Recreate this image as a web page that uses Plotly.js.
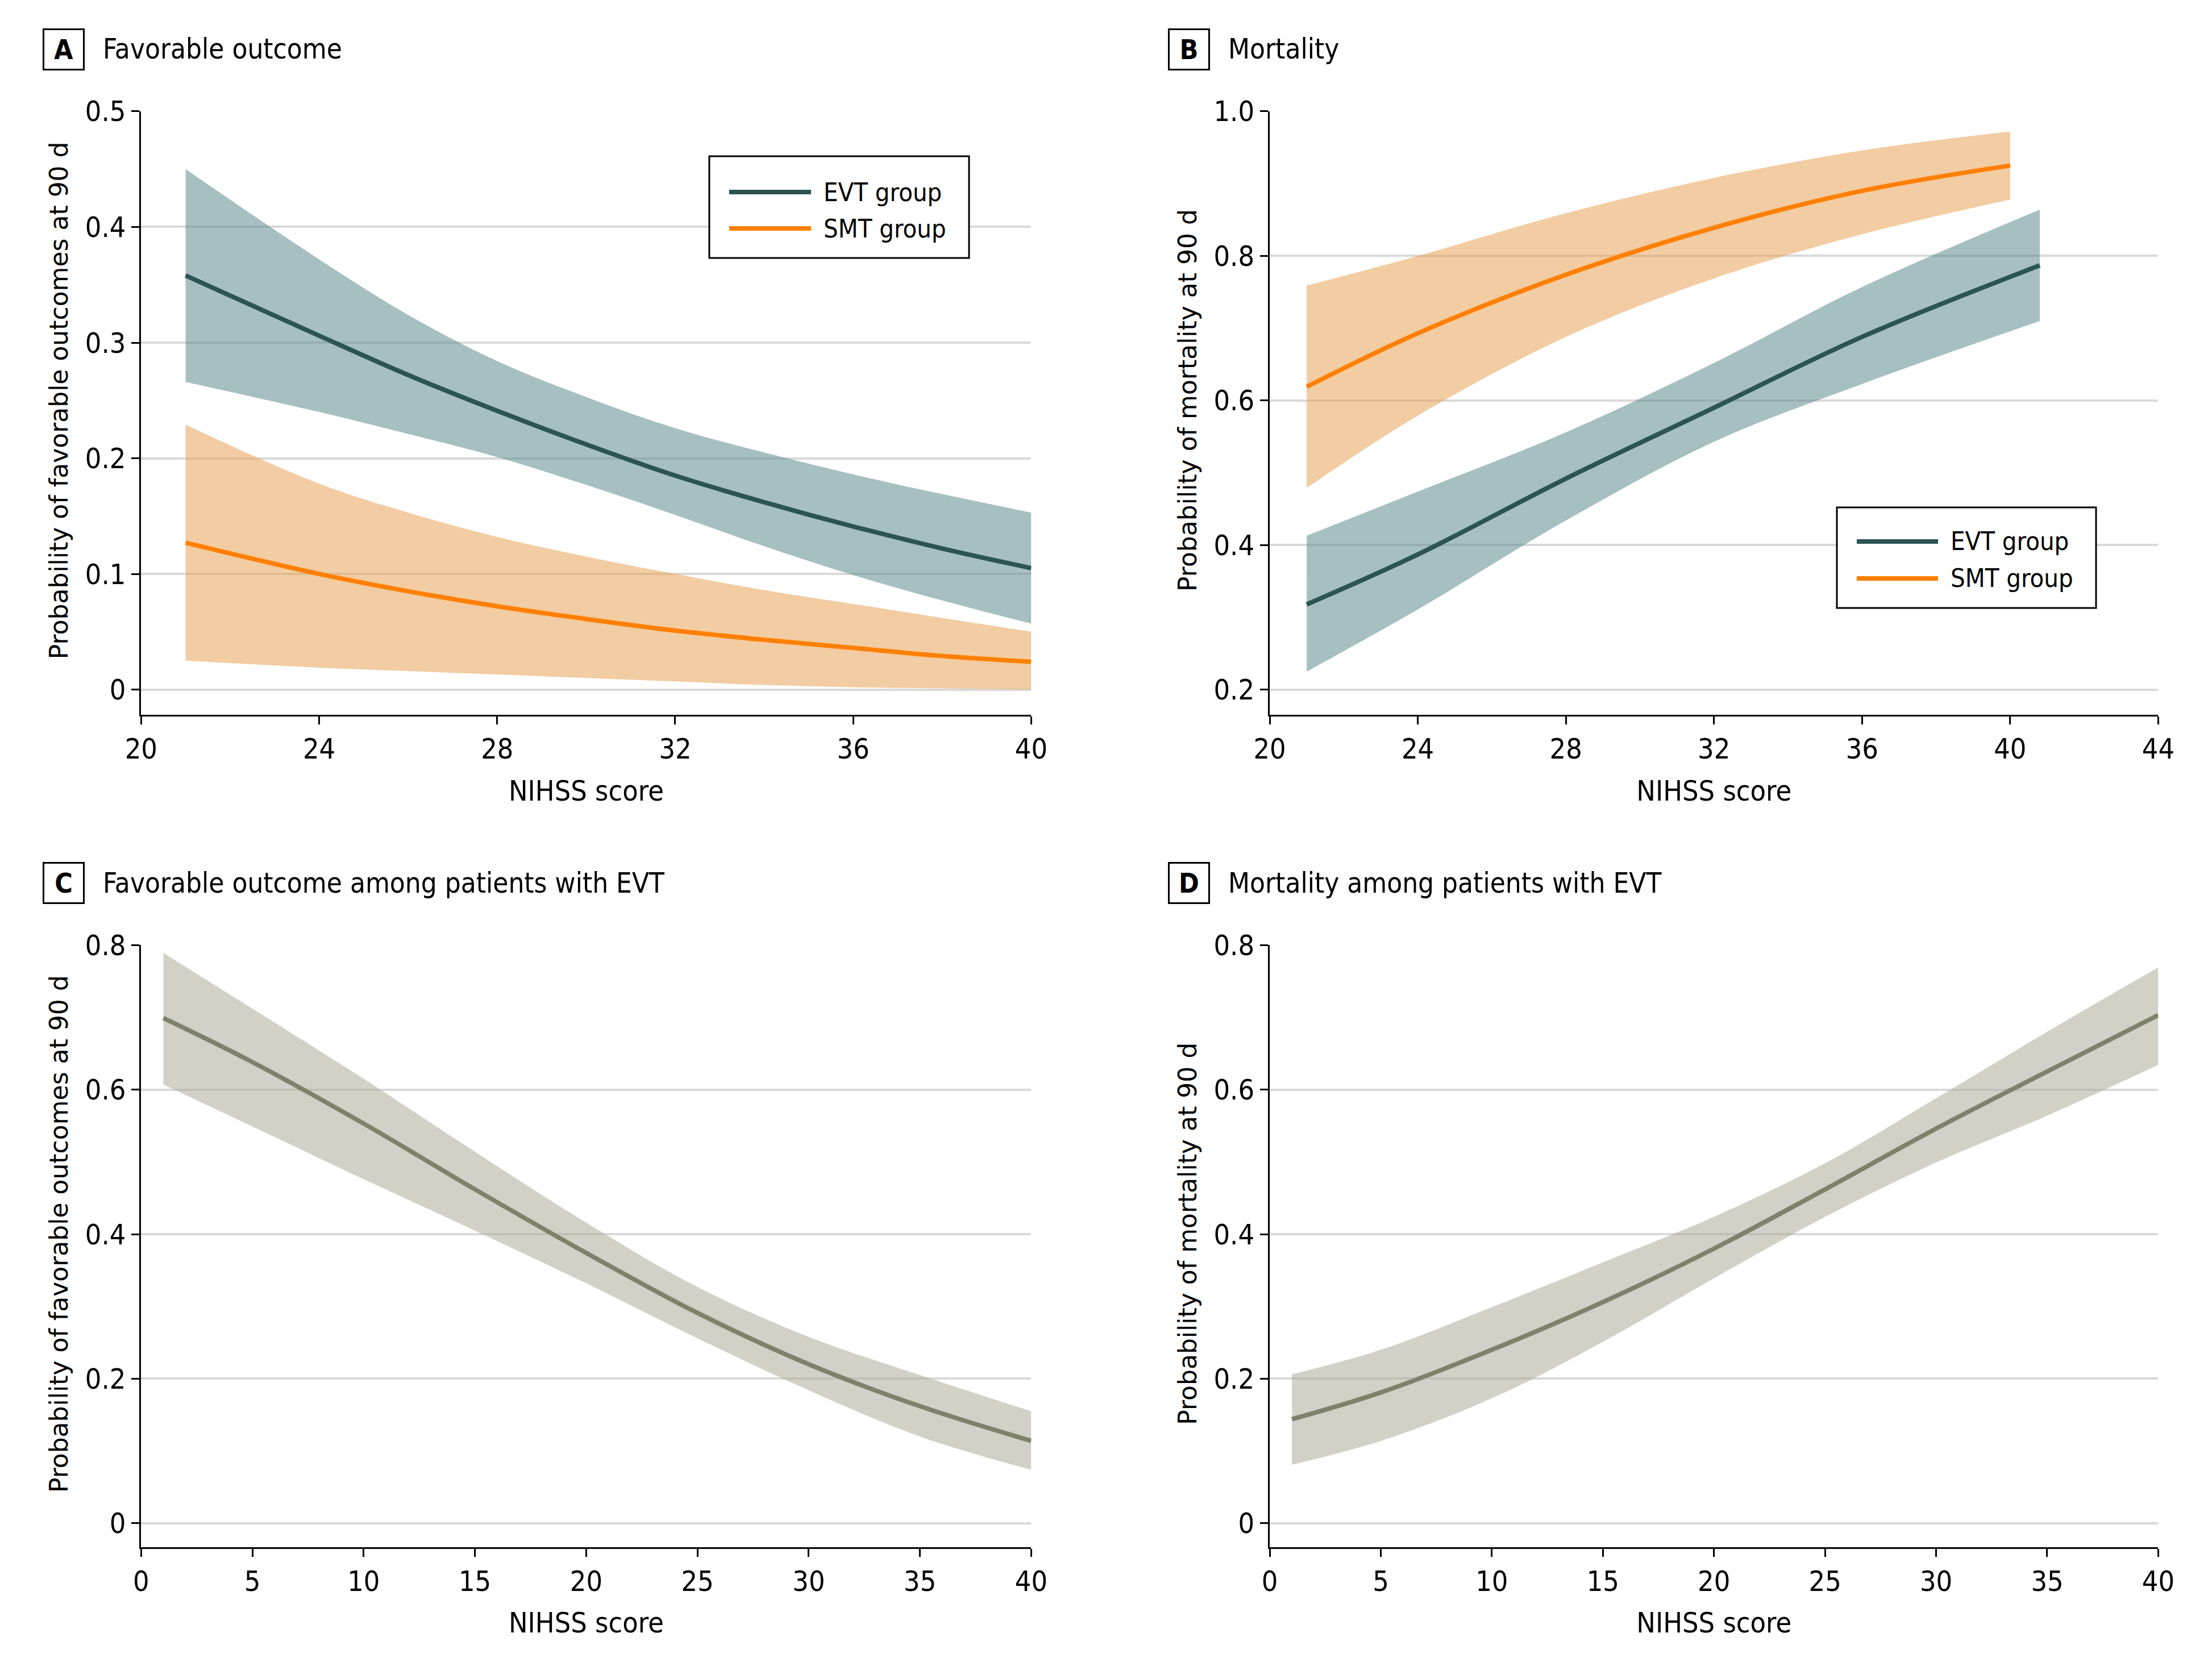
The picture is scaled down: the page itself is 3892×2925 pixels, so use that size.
<!DOCTYPE html>
<html>
<head>
<meta charset="utf-8">
<script src="https://cdn.plot.ly/plotly-3.0.1.min.js"></script>
<style>
html,body{margin:0;padding:0;background:#fff;}
#chart{width:3892px;height:2925px;}
</style>
</head>
<body>
<div id="chart"></div>
<script>
// ---------- Data ----------
// Panel A: favorable outcome
const xA = [21, 24, 26, 28, 30, 32, 34, 36, 38, 40];
const evtA      = [0.358, 0.306, 0.272, 0.241, 0.212, 0.185, 0.162, 0.141, 0.122, 0.105];
const evtA_hi   = [0.450, 0.372, 0.324, 0.284, 0.253, 0.226, 0.205, 0.186, 0.169, 0.153];
const evtA_lo   = [0.266, 0.240, 0.221, 0.201, 0.177, 0.151, 0.124, 0.099, 0.077, 0.057];
const smtA      = [0.127, 0.100, 0.085, 0.072, 0.061, 0.051, 0.043, 0.036, 0.029, 0.024];
const smtA_hi   = [0.229, 0.178, 0.153, 0.132, 0.115, 0.100, 0.086, 0.074, 0.062, 0.050];
const smtA_lo   = [0.025, 0.019, 0.016, 0.013, 0.010, 0.007, 0.004, 0.002, 0.001, 0.000];

// Panel B: mortality
const xB_smt = [21, 24, 28, 32, 36, 40];
const smtB      = [0.619, 0.693, 0.774, 0.839, 0.890, 0.925];
const smtB_hi   = [0.759, 0.800, 0.859, 0.908, 0.946, 0.972];
const smtB_lo   = [0.479, 0.579, 0.688, 0.769, 0.830, 0.878];
const xB_evt = [21, 24, 28, 32, 36, 40.8];
const evtB      = [0.318, 0.387, 0.492, 0.590, 0.688, 0.787];
const evtB_hi   = [0.413, 0.474, 0.556, 0.652, 0.757, 0.864];
const evtB_lo   = [0.225, 0.311, 0.434, 0.543, 0.623, 0.710];

// Panel C: favorable outcome among patients with EVT
const xC = [1, 5, 10, 15, 20, 25, 30, 35, 40];
const favC    = [0.699, 0.638, 0.553, 0.462, 0.374, 0.291, 0.220, 0.162, 0.114];
const favC_hi = [0.789, 0.712, 0.615, 0.514, 0.416, 0.327, 0.258, 0.205, 0.155];
const favC_lo = [0.607, 0.549, 0.476, 0.405, 0.332, 0.256, 0.184, 0.120, 0.074];

// Panel D: mortality among patients with EVT
const xD = [1, 5, 10, 15, 20, 25, 30, 35, 40];
const morD    = [0.144, 0.181, 0.240, 0.306, 0.380, 0.462, 0.546, 0.625, 0.703];
const morD_hi = [0.206, 0.240, 0.299, 0.361, 0.424, 0.498, 0.588, 0.680, 0.769];
const morD_lo = [0.081, 0.114, 0.173, 0.251, 0.339, 0.424, 0.499, 0.564, 0.634];

// Tick labels
const ticksTop = [20, 24, 28, 32, 36, 40];
const ticksTopB = [20, 24, 28, 32, 36, 40, 44];
const ticksBottom = [0, 5, 10, 15, 20, 25, 30, 35, 40];
const yTicksA = [0, 0.1, 0.2, 0.3, 0.4, 0.5];
const yTextA = ['0', '0.1', '0.2', '0.3', '0.4', '0.5'];
const yTicksB = [0.2, 0.4, 0.6, 0.8, 1.0];
const yTextB = ['0.2', '0.4', '0.6', '0.8', '1.0'];
const yTicksCD = [0, 0.2, 0.4, 0.6, 0.8];
const yTextCD = ['0', '0.2', '0.4', '0.6', '0.8'];

const panelTitles = ['Favorable outcome', 'Mortality', 'Favorable outcome among patients with EVT', 'Mortality among patients with EVT'];
const panelLetters = ['A', 'B', 'C', 'D'];
const seriesNames = ['EVT group', 'SMT group'];
const xTitle = 'NIHSS score';
const yTitles = ['Probability of favorable outcomes at 90 d', 'Probability of mortality at 90 d',
                 'Probability of favorable outcomes at 90 d', 'Probability of mortality at 90 d'];

// ---------- Styles ----------
const COND = '"DejaVu Sans Condensed", "DejaVu Sans", sans-serif';
const WIDE = '"DejaVu Sans", Verdana, sans-serif';
const EVT_LINE = '#2b5452', EVT_BAND = 'rgba(93,139,140,0.55)';
const SMT_LINE = '#ff8000', SMT_BAND = 'rgba(231,162,86,0.55)';
const GRY_LINE = '#7f826b', GRY_BAND = 'rgba(171,171,155,0.55)';
const LW = 8;

function band(x, lo, hi, color, xa, ya) {
  return [
    {x: x, y: lo, xaxis: xa, yaxis: ya, type: 'scatter', mode: 'lines',
     line: {width: 0, shape: 'spline', color: color}, showlegend: false, hoverinfo: 'skip'},
    {x: x, y: hi, xaxis: xa, yaxis: ya, type: 'scatter', mode: 'lines', fill: 'tonexty',
     fillcolor: color, line: {width: 0, shape: 'spline', color: color}, showlegend: false, hoverinfo: 'skip'}
  ];
}
function line(x, y, color, xa, ya, name) {
  return {x: x, y: y, xaxis: xa, yaxis: ya, type: 'scatter', mode: 'lines', name: name,
    line: {width: LW, shape: 'spline', color: color}, showlegend: false};
}

const data = [].concat(
  band(xA, evtA_lo, evtA_hi, EVT_BAND, 'x', 'y'),
  band(xA, smtA_lo, smtA_hi, SMT_BAND, 'x', 'y'),
  [line(xA, evtA, EVT_LINE, 'x', 'y', seriesNames[0]),
   line(xA, smtA, SMT_LINE, 'x', 'y', seriesNames[1])],
  band(xB_smt, smtB_lo, smtB_hi, SMT_BAND, 'x2', 'y2'),
  band(xB_evt, evtB_lo, evtB_hi, EVT_BAND, 'x2', 'y2'),
  [line(xB_evt, evtB, EVT_LINE, 'x2', 'y2', seriesNames[0]),
   line(xB_smt, smtB, SMT_LINE, 'x2', 'y2', seriesNames[1])],
  band(xC, favC_lo, favC_hi, GRY_BAND, 'x3', 'y3'),
  [line(xC, favC, GRY_LINE, 'x3', 'y3', 'EVT')],
  band(xD, morD_lo, morD_hi, GRY_BAND, 'x4', 'y4'),
  [line(xD, morD, GRY_LINE, 'x4', 'y4', 'EVT')]
);

function xaxis(domain, range, tickvals, anchor) {
  return {domain: domain, range: range, tickvals: tickvals, ticktext: tickvals.map(String),
    anchor: anchor, showline: true, linecolor: '#000', linewidth: 3, ticks: 'outside',
    ticklen: 14, tickwidth: 3, tickcolor: '#000', showgrid: false, zeroline: false,
    automargin: false, fixedrange: true,
    tickfont: {family: COND, size: 50, color: '#000'},
    title: {text: xTitle, font: {family: COND, size: 50, color: '#000'}, standoff: 28}};
}
function yaxis(domain, range, tickvals, ticktext, anchor) {
  return {domain: domain, range: range, tickvals: tickvals, ticktext: ticktext,
    anchor: anchor, showline: true, linecolor: '#000', linewidth: 3, ticks: 'outside',
    ticklen: 14, tickwidth: 3, tickcolor: '#000', showgrid: true, gridcolor: '#d9d9d9',
    gridwidth: 4, zeroline: false, automargin: false, fixedrange: true,
    tickfont: {family: COND, size: 50, color: '#000'}};
}

const colL = [0.0638, 0.4662], colR = [0.5740, 0.9757];
const rowT = [0.5698, 0.9330], rowB = [0.0691, 0.4314];

const annotations = [];
const shapes = [];
const titlePos = [[0.0288, 0.0460, 0.9703], [0.5376, 0.5548, 0.9703], [0.0288, 0.0460, 0.4687], [0.5376, 0.5548, 0.4687]];
const yTitlePos = [[0.0268, 0.7590], [0.5370, 0.7590], [0.0268, 0.2575], [0.5370, 0.2575]];
panelLetters.forEach((L, i) => {
  const p = titlePos[i];
  annotations.push({xref: 'paper', yref: 'paper', x: p[0], y: p[2], xanchor: 'center', yanchor: 'middle',
    text: '<b>' + L + '</b>', showarrow: false, width: 68, height: 68, borderwidth: 3, bordercolor: '#000',
    borderpad: 0, font: {family: COND, size: 48, color: '#000'}});
  annotations.push({xref: 'paper', yref: 'paper', x: p[1], y: p[2], xanchor: 'left', yanchor: 'middle',
    text: panelTitles[i], showarrow: false, font: {family: COND, size: 49, color: '#000'}});
  const q = yTitlePos[i];
  annotations.push({xref: 'paper', yref: 'paper', x: q[0], y: q[1], xanchor: 'center', yanchor: 'middle',
    text: yTitles[i], textangle: -90, showarrow: false, font: {family: WIDE, size: 44, color: '#000'}});
});

// Legends (panels A and B): box, line keys and labels
const legendBoxes = [
  {x0: 0.32066, x1: 0.43808, y0: 0.84479, y1: 0.90598, lx0: 0.32965, lx1: 0.36665, tx: 0.37179, ys: [0.88444, 0.86256]},
  {x0: 0.83042, x1: 0.94758, y0: 0.63419, y1: 0.69470, lx0: 0.83941, lx1: 0.87616, tx: 0.88130, ys: [0.67419, 0.65197]}
];
const legendColors = [EVT_LINE, SMT_LINE];
legendBoxes.forEach(b => {
  shapes.push({type: 'rect', xref: 'paper', yref: 'paper', x0: b.x0, x1: b.x1, y0: b.y0, y1: b.y1,
    fillcolor: '#fff', line: {color: '#000', width: 3}, layer: 'above'});
  seriesNames.forEach((nm, k) => {
    shapes.push({type: 'line', xref: 'paper', yref: 'paper', x0: b.lx0, x1: b.lx1, y0: b.ys[k], y1: b.ys[k],
      line: {color: legendColors[k], width: LW}, layer: 'above'});
    annotations.push({xref: 'paper', yref: 'paper', x: b.tx, y: b.ys[k], xanchor: 'left', yanchor: 'middle',
      text: nm, showarrow: false, font: {family: COND, size: 45, color: '#000'}});
  });
});

const layout = {
  width: 3892, height: 2925, margin: {l: 0, r: 0, t: 0, b: 0},
  paper_bgcolor: '#fff', plot_bgcolor: '#fff', showlegend: false,
  xaxis: xaxis(colL, [20, 40], ticksTop, 'y'),
  yaxis: yaxis(rowT, [-0.022, 0.5], yTicksA, yTextA, 'x'),
  xaxis2: xaxis(colR, [20, 44], ticksTopB, 'y2'),
  yaxis2: yaxis(rowT, [0.165, 1.0], yTicksB, yTextB, 'x2'),
  xaxis3: xaxis(colL, [0, 40], ticksBottom, 'y3'),
  yaxis3: yaxis(rowB, [-0.033, 0.8], yTicksCD, yTextCD, 'x3'),
  xaxis4: xaxis(colR, [0, 40], ticksBottom, 'y4'),
  yaxis4: yaxis(rowB, [-0.033, 0.8], yTicksCD, yTextCD, 'x4'),
  annotations: annotations,
  shapes: shapes
};

Plotly.newPlot('chart', data, layout, {staticPlot: true, displayModeBar: false});
</script>
</body>
</html>
